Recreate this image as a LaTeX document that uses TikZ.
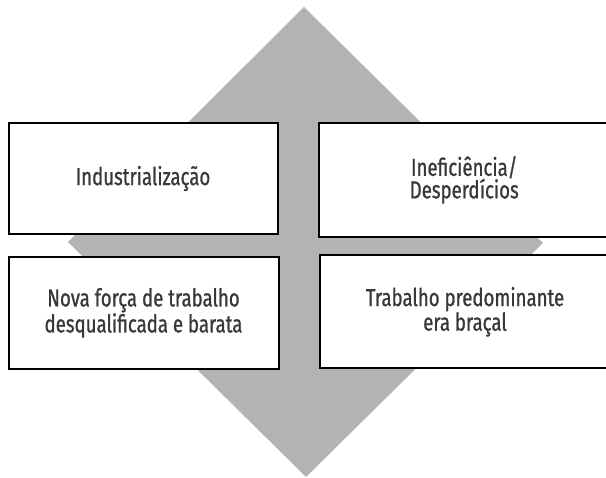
\documentclass[tikz,border=0pt]{standalone}
\usepackage{fontspec}
\setmainfont[FakeStretch=0.76,FakeBold=0.9]{Fira Sans}
\definecolor{diamondgray}{HTML}{B3B3B3}
\definecolor{textgray}{HTML}{383838}
\begin{document}
\begin{tikzpicture}[x=1pt,y=1pt,
  box/.style={draw=black, line width=2pt, fill=white, rectangle, align=center,
    text=textgray, inner sep=0pt,
    font=\fontsize{24.5}{22.5}\selectfont}]
\clip (0,0) rectangle (606,478);
\useasboundingbox (0,0) rectangle (606,478);
% diamond (double arrow cross)
\fill[diamondgray] (304,471) -- (543,235) -- (306,1) -- (68,236) -- cycle;
% boxes (y = 478 - image y)
\node[box, minimum width=269pt, minimum height=111pt] (tl) at (143,299.5) {Industrialização};
\node[box, minimum width=291.5pt, minimum height=113.7pt] (tr) at (464.25,298.15) {Ineficiência/\\Desperdícios};
\node[box, minimum width=270pt, minimum height=111.7pt] (bl) at (143.5,165.15) {Nova força de trabalho\\desqualificada e barata};
\node[box, minimum width=290pt, minimum height=113.5pt] (br) at (465,166.25) {Trabalho predominante\\era braçal};
\end{tikzpicture}
\end{document}
